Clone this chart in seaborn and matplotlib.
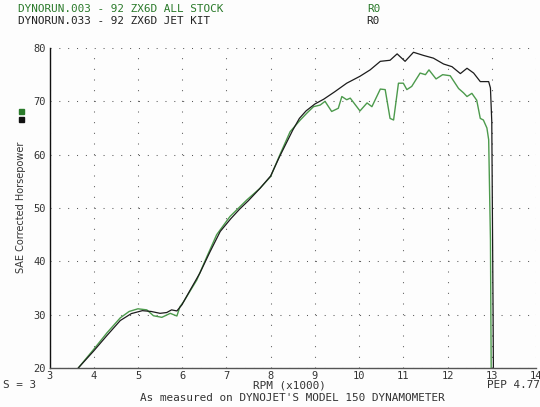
import matplotlib
matplotlib.use("Agg")
import matplotlib.pyplot as plt
import seaborn as sns
import pandas as pd
from matplotlib.patches import Rectangle

# Datos (rpm x1000, hp SAE)
rpm_stock = [3.65, 4.0, 4.3, 4.6, 4.8, 5.0, 5.2, 5.35, 5.54, 5.73, 5.88, 5.95, 6.03,
             6.33, 6.56, 6.78, 7.08, 7.46, 7.76, 8.0, 8.21, 8.44, 8.67, 8.82, 8.97,
             9.12, 9.23, 9.38, 9.53, 9.61, 9.72, 9.80, 10.02, 10.18, 10.29, 10.48,
             10.59, 10.70, 10.78, 10.89, 11.0, 11.08, 11.19, 11.38, 11.50, 11.58,
             11.74, 11.89, 12.06, 12.25, 12.36, 12.44, 12.55, 12.66, 12.74, 12.81,
             12.89, 12.93, 12.97, 12.99]
hp_stock = [20.0, 23.5, 26.6, 29.4, 30.6, 31.1, 30.9, 29.8, 29.5, 30.25, 29.75, 31.5, 32.4,
            36.5, 40.9, 45.0, 48.4, 51.5, 53.7, 55.9, 60.0, 64.3, 66.5, 67.8, 69.0,
            69.3, 70.0, 68.1, 68.7, 70.9, 70.3, 70.6, 68.2, 69.7, 69.0, 72.3,
            72.2, 66.8, 66.5, 73.4, 73.4, 72.2, 72.8, 75.3, 75.0, 75.9,
            74.2, 75.0, 74.8, 72.4, 71.6, 70.9, 71.5, 70.2, 66.8, 66.5,
            65.0, 62.8, 44.0, 15.0]

rpm_jet = [3.65, 4.0, 4.3, 4.6, 4.85, 5.1, 5.3, 5.5, 5.65, 5.76, 5.88, 5.99, 6.18,
           6.40, 6.63, 6.86, 7.0, 7.1, 7.3, 7.5, 7.75, 8.0, 8.2, 8.5, 8.65, 8.8,
           9.0, 9.2, 9.45, 9.72, 10.02, 10.25, 10.48, 10.70, 10.86, 11.04, 11.23,
           11.46, 11.68, 11.91, 12.10, 12.29, 12.44, 12.59, 12.74, 12.93, 12.97,
           13.0, 13.03, 13.04]
hp_jet = [20.0, 23.2, 26.1, 28.9, 30.2, 30.75, 30.6, 30.25, 30.4, 30.9, 30.7, 31.8, 34.6,
          37.8, 41.8, 45.6, 47.0, 48.0, 49.8, 51.4, 53.6, 56.0, 59.6, 64.6, 66.8, 68.2,
          69.5, 70.4, 71.8, 73.4, 74.7, 75.9, 77.5, 77.7, 78.9, 77.5, 79.2,
          78.6, 78.1, 77.0, 76.5, 75.2, 76.2, 75.3, 73.7, 73.7, 72.5,
          66.2, 30.0, 15.0]

x_ticks = list(range(3, 15))
y_ticks = [20, 30, 40, 50, 60, 70, 80]

verde = "#4c9a4c"
verde_txt = "#2a7a2a"
negro = "#1c1c1c"

sns.set_style("white")
plt.rcParams["font.family"] = ["DejaVu Sans Mono", "DejaVu Sans"]
plt.rcParams["lines.scale_dashes"] = False

W, H = 540, 407
fig = plt.figure(figsize=(W / 100, H / 100), dpi=100)
fig.patch.set_facecolor("#fdfdfd")
ax = fig.add_axes([49.5 / W, (H - 368) / H, 486.5 / W, 320 / H])
ax.set_facecolor("#fdfdfd")

df_stock = pd.DataFrame({"rpm": rpm_stock, "hp": hp_stock})
df_jet = pd.DataFrame({"rpm": rpm_jet, "hp": hp_jet})
sns.lineplot(data=df_stock, x="rpm", y="hp", sort=False, estimator=None,
             color=verde, lw=1.0, ax=ax)
sns.lineplot(data=df_jet, x="rpm", y="hp", sort=False, estimator=None,
             color=negro, lw=0.9, ax=ax)

ax.set_xlim(3, 14)
ax.set_ylim(20, 80)
ax.set_xticks(x_ticks)
ax.set_yticks(y_ticks)
ax.set_xlabel("")
ax.set_ylabel("")
ax.tick_params(length=0, labelsize=7.5, labelcolor="#333333")
ax.tick_params(axis="x", pad=2)
ax.tick_params(axis="y", pad=2.5)

# rejilla punteada (puntos cada 0.2 rpm / cada 2 hp)
ax.yaxis.grid(True, color="#555555", lw=0.75, linestyle=(0, (0.72, 5.648)))
ax.xaxis.grid(True, color="#555555", lw=0.75, linestyle=(0, (0.72, 6.96)))
ax.set_axisbelow(True)

for s in ["top", "right"]:
    ax.spines[s].set_visible(False)
ax.spines["left"].set_color("#111111")
ax.spines["bottom"].set_color("#555555")
ax.spines["left"].set_linewidth(1.0)
ax.spines["bottom"].set_linewidth(1.0)

def ftxt(x, y, s, **kw):
    fig.text(x / W, 1 - y / H, s, fontsize=7.9, va="center", **kw)

ftxt(18, 9, "DYNORUN.003 - 92 ZX6D ALL STOCK", color=verde_txt)
ftxt(18, 21, "DYNORUN.033 - 92 ZX6D JET KIT", color="#222222")
ftxt(367, 9, "R0", color=verde_txt)
ftxt(366, 21, "R0", color="#222222")
ftxt(3, 385, "S = 3", color="#333333")
ftxt(289, 385, "RPM (x1000)", color="#333333", ha="center")
ftxt(540, 385, "PEP 4.77", color="#333333", ha="right")
ftxt(292, 398, "As measured on DYNOJET'S MODEL 150 DYNAMOMETER", color="#333333", ha="center")

fig.text(21 / W, 1 - 207 / H, "SAE Corrected Horsepower", fontsize=7,
         rotation=90, va="center", ha="center", color="#333333",
         family="DejaVu Sans")

# marcadores de la leyenda
fig.patches.append(Rectangle((19 / W, 1 - 113.5 / H), 4.5 / W, 4.5 / H,
                             transform=fig.transFigure, color=verde_txt, figure=fig))
fig.patches.append(Rectangle((19 / W, 1 - 121.5 / H), 4.5 / W, 4.5 / H,
                             transform=fig.transFigure, color="#111111", figure=fig))

fig.savefig("out.png", dpi=100, facecolor=fig.get_facecolor())
